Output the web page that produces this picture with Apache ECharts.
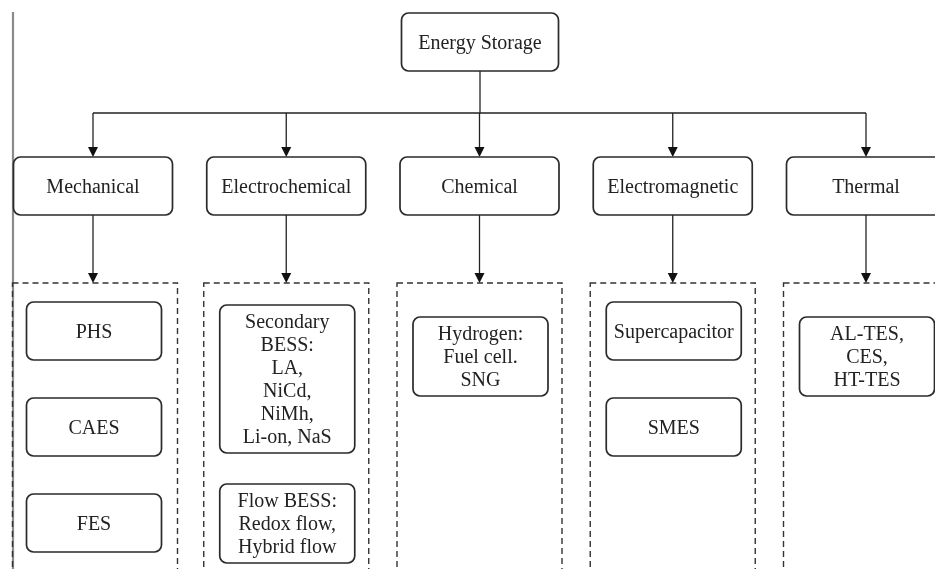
<!DOCTYPE html>
<html>
<head>
<meta charset="utf-8">
<script src="https://cdn.jsdelivr.net/npm/echarts@6/dist/echarts.min.js"></script>
<style>html,body{margin:0;padding:0;background:#fff}#chart{width:935px;height:569px}</style>
</head>
<body>
<div id="chart"></div>
<script>
// ---- data ----
const rootLabel = 'Energy Storage';
const categories = ['Mechanical', 'Electrochemical', 'Chemical', 'Electromagnetic', 'Thermal'];
const mechanicalItems = ['PHS', 'CAES', 'FES'];
const electrochemicalItems = ['Secondary\nBESS:\nLA,\nNiCd,\nNiMh,\nLi-on, NaS', 'Flow BESS:\nRedox flow,\nHybrid flow'];
const chemicalItems = ['Hydrogen:\nFuel cell.\nSNG'];
const electromagneticItems = ['Supercapacitor', 'SMES'];
const thermalItems = ['AL-TES,\nCES,\nHT-TES'];
const itemGroups = [mechanicalItems, electrochemicalItems, chemicalItems, electromagneticItems, thermalItems];

// ---- layout (separate from data) ----
const W = 935, H = 569;
const colX0 = 93, colStep = 193.25;
const rootBox = {cx: 480, top: 13, w: 157, h: 58};
const busY = 113;
const catTop = 157, catW = 159, catH = 58;
const groupTop = 283, groupW = 165, groupBottom = 600;
const itemW = 135, lineH = 23;
const itemTops = [[302, 398, 494], [305, 484], [317], [302, 398], [317]];
const FONT = '20px "Liberation Serif", "Times New Roman", serif';

const els = [];
function colX(i) { return colX0 + i * colStep; }
function boxH(label) { const n = label.split('\n').length; return n === 1 ? 58 : n * lineH + 10; }

els.push({kind: 'vline', x: 13, y1: 12, y2: H});
els.push({kind: 'box', cx: rootBox.cx, top: rootBox.top, w: rootBox.w, h: rootBox.h, text: rootLabel});
els.push({kind: 'line', x1: rootBox.cx, y1: rootBox.top + rootBox.h, x2: rootBox.cx, y2: busY});
els.push({kind: 'line', x1: colX(0), y1: busY, x2: colX(categories.length - 1), y2: busY});
categories.forEach((c, i) => {
  const x = colX(i);
  els.push({kind: 'arrow', x: x, y1: busY, y2: catTop});
  els.push({kind: 'box', cx: x, top: catTop, w: catW, h: catH, text: c});
  els.push({kind: 'dashed', cx: x + (i === 0 ? 2 : 0), top: groupTop, w: groupW, bottom: groupBottom});
  els.push({kind: 'arrow', x: x, y1: catTop + catH, y2: groupTop});
  itemGroups[i].forEach((it, j) => {
    els.push({kind: 'box', cx: x + 1, top: itemTops[i][j], w: itemW, h: boxH(it), text: it});
  });
});

const chart = echarts.init(document.getElementById('chart'), null, {renderer: 'canvas'});

function renderItem(params, api) {
  const e = els[params.dataIndex];
  const P = (x, y) => api.coord([x, y]);
  if (e.kind === 'vline') {
    const a = P(e.x, e.y1), b = P(e.x, e.y2);
    return {type: 'line', shape: {x1: a[0], y1: a[1], x2: b[0], y2: b[1]}, style: {stroke: '#8a8a8a', lineWidth: 2.2}};
  }
  if (e.kind === 'line') {
    const a = P(e.x1, e.y1), b = P(e.x2, e.y2);
    return {type: 'line', shape: {x1: a[0], y1: a[1], x2: b[0], y2: b[1]}, style: {stroke: '#222', lineWidth: 1.3}};
  }
  if (e.kind === 'arrow') {
    const a = P(e.x, e.y1), b = P(e.x, e.y2);
    return {type: 'group', children: [
      {type: 'line', shape: {x1: a[0], y1: a[1], x2: b[0], y2: b[1] - 6}, style: {stroke: '#222', lineWidth: 1.3}},
      {type: 'polygon', shape: {points: [[b[0] - 5, b[1] - 10], [b[0] + 5, b[1] - 10], [b[0], b[1]]]}, style: {fill: '#111'}}
    ]};
  }
  if (e.kind === 'dashed') {
    const a = P(e.cx - e.w / 2, e.top), b = P(e.cx + e.w / 2, e.bottom);
    return {type: 'rect', shape: {x: a[0], y: a[1], width: b[0] - a[0], height: b[1] - a[1]},
      style: {fill: 'none', stroke: '#333', lineWidth: 1.4, lineDash: [6, 4]}};
  }
  // box
  const a = P(e.cx - e.w / 2, e.top), b = P(e.cx + e.w / 2, e.top + e.h);
  const single = e.text.indexOf('\n') < 0;
  return {type: 'rect', shape: {x: a[0], y: a[1], width: b[0] - a[0], height: b[1] - a[1], r: 7},
    style: {fill: '#fff', stroke: '#2a2a2a', lineWidth: 1.7},
    textContent: {style: {text: e.text, font: FONT, fill: '#222', align: 'center', verticalAlign: 'middle', lineHeight: lineH}},
    textConfig: {position: 'inside', offset: [0, single ? 2 : 1]}};
}

chart.setOption({
  animation: false,
  backgroundColor: '#fff',
  grid: {left: 0, right: 0, top: 0, bottom: 0},
  xAxis: {type: 'value', min: 0, max: W, show: false},
  yAxis: {type: 'value', min: 0, max: H, inverse: true, show: false},
  series: [{
    type: 'custom',
    clip: false,
    renderItem: renderItem,
    data: els.map((e, i) => [e.cx || e.x || e.x1 || 0, e.top || e.y1 || 0]),
    z: 2
  }]
});
</script>
</body>
</html>
